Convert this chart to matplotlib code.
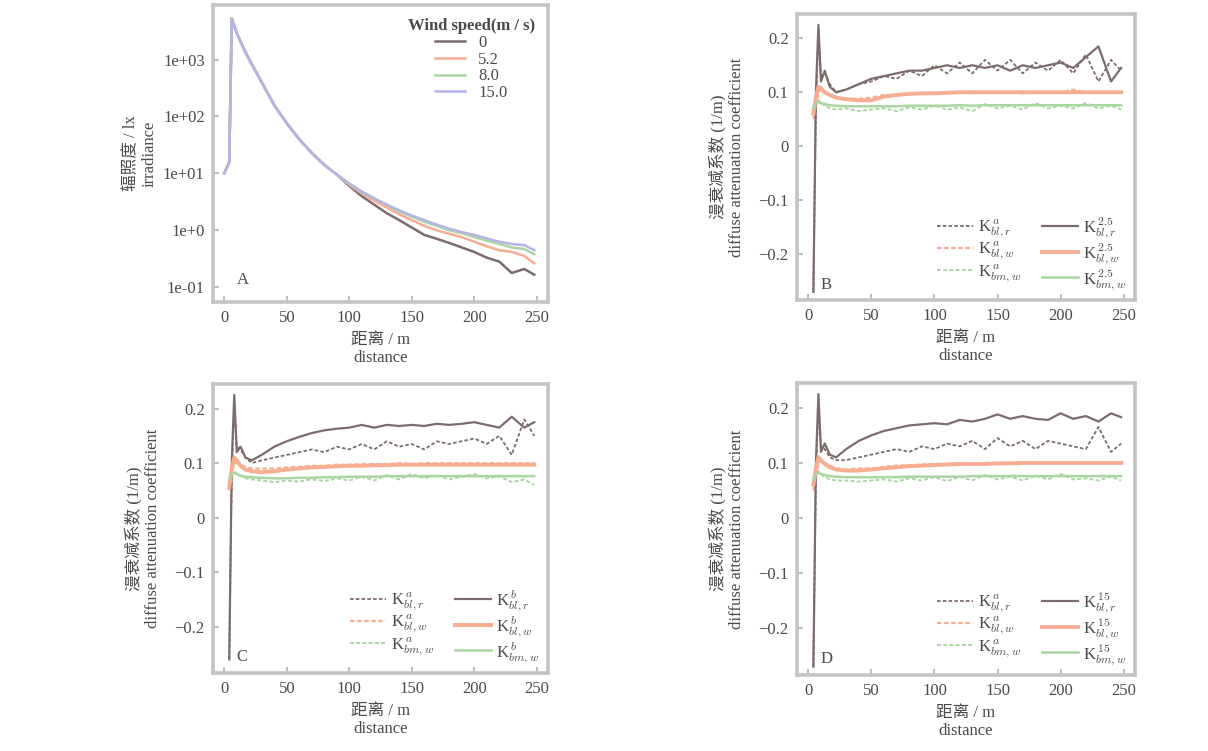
import matplotlib
matplotlib.use("Agg")
import matplotlib.pyplot as plt
from matplotlib.ticker import FixedLocator, FixedFormatter

plt.rcParams["font.family"] = ["Liberation Serif", "Noto Sans CJK SC"]
plt.rcParams["mathtext.fontset"] = "cm"

# ---------------- Panel A: irradiance vs distance ----------------
dist_a = [0, 4, 6, 10, 15, 20, 30, 40, 50, 60, 70, 80, 90, 100, 110, 120,
          130, 140, 150, 160, 170, 180, 190, 200, 210, 220, 230, 240, 248]
wind_labels = ["0", "5.2", "8.0", "15.0"]
irr_w0 = [10, 15.8, 5248, 2951, 1660, 1000, 398, 158, 75.9, 39.8, 22.9, 14.1,
          9.55, 6.03, 3.98, 2.82, 2.0, 1.51, 1.12, 0.83, 0.71, 0.60, 0.50,
          0.417, 0.331, 0.282, 0.178, 0.209, 0.166]
irr_w5 = [10, 15.8, 5248, 2951, 1660, 1000, 398, 158, 75.9, 39.8, 22.9, 14.1,
          9.55, 6.31, 4.47, 3.31, 2.51, 1.91, 1.51, 1.20, 1.0, 0.87, 0.76,
          0.63, 0.525, 0.447, 0.417, 0.355, 0.263]
irr_w8 = [10, 15.8, 5248, 2951, 1660, 1000, 398, 158, 75.9, 39.8, 22.9, 14.1,
          9.55, 6.61, 4.79, 3.63, 2.82, 2.14, 1.74, 1.41, 1.20, 1.0, 0.89,
          0.76, 0.66, 0.575, 0.50, 0.47, 0.38]
irr_w15 = [10, 15.8, 5248, 2951, 1660, 1000, 398, 158, 75.9, 39.8, 22.9, 14.1,
           9.55, 6.61, 4.79, 3.63, 2.82, 2.24, 1.82, 1.51, 1.26, 1.07, 0.93,
           0.83, 0.72, 0.63, 0.575, 0.55, 0.447]
irr_ticks = [0.1, 1, 10, 100, 1000]
irr_ticklabels = ["1e-01", "1e+0", "1e+01", "1e+02", "1e+03"]

# ---------------- Panels B-D: diffuse attenuation coefficients ----------------
dist_k = [4, 6, 8, 10, 13, 17, 22, 30, 40, 50, 60, 70, 80, 90, 100, 110, 120,
          130, 140, 150, 160, 170, 180, 190, 200, 210, 220, 230, 240, 248]

b_kr_a = [-0.27, 0.08, 0.21, 0.13, 0.135, 0.115, 0.10, 0.105, 0.115, 0.12, 0.13,
          0.125, 0.14, 0.13, 0.15, 0.135, 0.155, 0.135, 0.16, 0.14, 0.16, 0.135,
          0.155, 0.14, 0.16, 0.135, 0.17, 0.12, 0.16, 0.14]
b_kr_b = [-0.27, 0.10, 0.225, 0.12, 0.14, 0.11, 0.10, 0.105, 0.115, 0.125, 0.13,
          0.135, 0.14, 0.14, 0.145, 0.15, 0.145, 0.15, 0.145, 0.15, 0.14, 0.15,
          0.145, 0.15, 0.155, 0.145, 0.165, 0.185, 0.12, 0.145]
b_kw_a = [0.05, 0.07, 0.10, 0.105, 0.10, 0.095, 0.09, 0.088, 0.088, 0.09, 0.095,
          0.095, 0.097, 0.098, 0.098, 0.10, 0.10, 0.098, 0.10, 0.10, 0.10, 0.098,
          0.10, 0.10, 0.10, 0.105, 0.10, 0.10, 0.10, 0.10]
b_kw_b = [0.06, 0.09, 0.11, 0.108, 0.10, 0.095, 0.09, 0.087, 0.085, 0.085, 0.092,
          0.095, 0.097, 0.098, 0.098, 0.099, 0.10, 0.10, 0.10, 0.10, 0.10, 0.10,
          0.10, 0.10, 0.10, 0.10, 0.10, 0.10, 0.10, 0.10]
b_kcw_a = [0.06, 0.075, 0.085, 0.08, 0.075, 0.07, 0.068, 0.07, 0.065, 0.068, 0.07,
           0.065, 0.072, 0.068, 0.075, 0.068, 0.072, 0.065, 0.078, 0.07, 0.075,
           0.068, 0.08, 0.07, 0.075, 0.07, 0.08, 0.07, 0.075, 0.068]
b_kcw_b = [0.07, 0.08, 0.082, 0.08, 0.078, 0.076, 0.075, 0.074, 0.074, 0.074,
           0.074, 0.074, 0.075, 0.075, 0.075, 0.075, 0.076, 0.075, 0.076, 0.076,
           0.076, 0.076, 0.076, 0.076, 0.076, 0.076, 0.076, 0.076, 0.076, 0.076]

c_kr_a = [-0.26, 0.08, 0.21, 0.13, 0.125, 0.11, 0.10, 0.105, 0.11, 0.115, 0.12,
          0.125, 0.12, 0.13, 0.125, 0.135, 0.125, 0.14, 0.13, 0.135, 0.125, 0.14,
          0.135, 0.14, 0.145, 0.135, 0.15, 0.115, 0.18, 0.15]
c_kr_b = [-0.26, 0.10, 0.225, 0.12, 0.13, 0.11, 0.105, 0.115, 0.13, 0.14, 0.148,
          0.155, 0.16, 0.163, 0.165, 0.17, 0.165, 0.17, 0.168, 0.17, 0.168, 0.172,
          0.17, 0.172, 0.175, 0.17, 0.165, 0.185, 0.165, 0.175]
c_kw_a = [0.05, 0.08, 0.10, 0.10, 0.097, 0.093, 0.09, 0.09, 0.09, 0.092, 0.093,
          0.095, 0.095, 0.097, 0.097, 0.098, 0.098, 0.098, 0.10, 0.098, 0.10,
          0.10, 0.10, 0.10, 0.10, 0.10, 0.10, 0.10, 0.10, 0.10]
c_kw_b = [0.055, 0.09, 0.11, 0.105, 0.095, 0.088, 0.085, 0.083, 0.085, 0.088,
          0.09, 0.092, 0.093, 0.094, 0.095, 0.095, 0.096, 0.096, 0.097, 0.097,
          0.097, 0.097, 0.097, 0.097, 0.097, 0.097, 0.097, 0.097, 0.097, 0.097]
c_kcw_a = [0.065, 0.078, 0.085, 0.08, 0.077, 0.072, 0.07, 0.068, 0.065, 0.068,
           0.066, 0.07, 0.067, 0.072, 0.068, 0.075, 0.068, 0.078, 0.07, 0.08,
           0.072, 0.078, 0.07, 0.075, 0.08, 0.072, 0.076, 0.065, 0.07, 0.06]
c_kcw_b = [0.07, 0.08, 0.082, 0.08, 0.077, 0.075, 0.074, 0.073, 0.072, 0.072,
           0.073, 0.073, 0.074, 0.074, 0.075, 0.075, 0.075, 0.076, 0.076, 0.076,
           0.076, 0.076, 0.076, 0.076, 0.076, 0.076, 0.076, 0.076, 0.076, 0.076]

d_kr_a = [-0.27, 0.08, 0.21, 0.13, 0.125, 0.11, 0.105, 0.105, 0.11, 0.115, 0.12,
          0.125, 0.12, 0.13, 0.125, 0.135, 0.13, 0.14, 0.125, 0.145, 0.13, 0.14,
          0.125, 0.14, 0.135, 0.13, 0.125, 0.165, 0.12, 0.135]
d_kr_b = [-0.27, 0.10, 0.225, 0.12, 0.135, 0.115, 0.11, 0.125, 0.14, 0.15, 0.158,
          0.163, 0.168, 0.17, 0.172, 0.17, 0.178, 0.175, 0.18, 0.188, 0.18, 0.185,
          0.18, 0.178, 0.19, 0.18, 0.185, 0.175, 0.19, 0.183]
d_kw_a = [0.05, 0.075, 0.10, 0.105, 0.10, 0.095, 0.09, 0.088, 0.09, 0.09, 0.093,
          0.095, 0.096, 0.097, 0.098, 0.098, 0.10, 0.098, 0.10, 0.10, 0.10, 0.10,
          0.10, 0.10, 0.10, 0.10, 0.10, 0.10, 0.10, 0.10]
d_kw_b = [0.06, 0.09, 0.11, 0.105, 0.098, 0.092, 0.088, 0.086, 0.086, 0.088,
          0.09, 0.092, 0.094, 0.095, 0.096, 0.097, 0.098, 0.098, 0.098, 0.099,
          0.099, 0.10, 0.10, 0.10, 0.10, 0.10, 0.10, 0.10, 0.10, 0.10]
d_kcw_a = [0.06, 0.075, 0.085, 0.08, 0.075, 0.07, 0.068, 0.068, 0.066, 0.068,
           0.07, 0.066, 0.072, 0.068, 0.074, 0.067, 0.075, 0.068, 0.078, 0.07,
           0.075, 0.068, 0.077, 0.07, 0.08, 0.07, 0.072, 0.068, 0.075, 0.068]
d_kcw_b = [0.07, 0.08, 0.082, 0.08, 0.078, 0.076, 0.075, 0.074, 0.074, 0.074,
           0.074, 0.074, 0.075, 0.075, 0.075, 0.075, 0.075, 0.076, 0.076, 0.076,
           0.076, 0.076, 0.076, 0.076, 0.076, 0.076, 0.076, 0.076, 0.076, 0.076]

k_ticks = [-0.2, -0.1, 0, 0.1, 0.2]
k_ticklabels = ["\u22120.2", "\u22120.1", "0", "0.1", "0.2"]
x_ticks = [0, 50, 100, 150, 200, 250]

legend_left = [r"K$_{bl,r}^{\,a}$", r"K$_{bl,w}^{\,a}$", r"K$_{bm,w}^{\,a}$"]
legend_right_b = [r"K$_{bl,r}^{\,2.5}$", r"K$_{bl,w}^{\,2.5}$", r"K$_{bm,w}^{\,2.5}$"]
legend_right_c = [r"K$_{bl,r}^{\,b}$", r"K$_{bl,w}^{\,b}$", r"K$_{bm,w}^{\,b}$"]
legend_right_d = [r"K$_{bl,r}^{\,15}$", r"K$_{bl,w}^{\,15}$", r"K$_{bm,w}^{\,15}$"]

# ---------------- styling ----------------
C_DARK = "#7c6c6c"
C_ORANGE = "#f6ad92"
C_GREEN = "#a9d6a2"
C_BLUE = "#b4b4e6"
SPINE = "#c4c4c4"
TXT = "#4a4a4a"
FS = 12

fig = plt.figure(figsize=(12.08, 7.51), dpi=100)


def style_axes(ax):
    for s in ax.spines.values():
        s.set_color(SPINE)
        s.set_linewidth(2.6)
    ax.tick_params(axis="both", direction="in", length=4, width=1.2,
                   color="#b0b0b0", labelsize=FS, labelcolor=TXT, pad=6)
    ax.tick_params(axis="both", which="minor", length=0)
    ax.set_xlim(-9, 259)
    ax.xaxis.set_major_locator(FixedLocator(x_ticks))
    ax.set_xlabel("距离 / m\ndistance", fontsize=FS, color=TXT, linespacing=1.2)


# Panel A
axA = fig.add_axes([213 / 1208, 1 - 302 / 751, 335 / 1208, 297 / 751])
axA.set_yscale("log")
for vals, lab, col in zip([irr_w0, irr_w5, irr_w8, irr_w15], wind_labels,
                          [C_DARK, C_ORANGE, C_GREEN, C_BLUE]):
    axA.plot(dist_a, vals, color=col, lw=1.8, label=lab)
axA.set_ylim(0.055, 9100)
axA.yaxis.set_major_locator(FixedLocator(irr_ticks))
axA.yaxis.set_major_formatter(FixedFormatter(irr_ticklabels))
axA.yaxis.set_minor_locator(FixedLocator([]))
style_axes(axA)
axA.set_ylabel("辐照度 / lx\nirradiance", fontsize=FS, color=TXT, linespacing=1.2)
leg = axA.legend(title="Wind speed(m / s)", loc="upper right", frameon=False,
                 fontsize=FS, handlelength=1.8, labelspacing=0.05,
                 bbox_to_anchor=(0.99, 0.99), borderaxespad=0.2)
leg.get_title().set_fontweight("bold")
leg.get_title().set_color(TXT)
leg.get_title().set_fontsize(FS)
leg._legend_box.align = "center"
for t in leg.get_texts():
    t.set_color(TXT)
axA.text(0.07, 0.06, "A", transform=axA.transAxes, fontsize=FS, color=TXT)


def k_panel(rect, series, right_labels, letter):
    ax = fig.add_axes(rect)
    kr_a, kr_b, kw_a, kw_b, kcw_a, kcw_b = series
    h1, = ax.plot(dist_k, kr_a, color=C_DARK, lw=1.3, ls=(0, (2, 1.2)))
    h2, = ax.plot(dist_k, kw_a, color=C_ORANGE, lw=1.6, ls=(0, (2, 1.2)))
    h3, = ax.plot(dist_k, kcw_a, color=C_GREEN, lw=1.4, ls=(0, (2, 1.2)))
    h4, = ax.plot(dist_k, kr_b, color=C_DARK, lw=1.6)
    h5, = ax.plot(dist_k, kw_b, color=C_ORANGE, lw=2.8)
    h6, = ax.plot(dist_k, kcw_b, color=C_GREEN, lw=1.8)
    ax.set_ylim(-0.285, 0.245)
    ax.yaxis.set_major_locator(FixedLocator(k_ticks))
    ax.yaxis.set_major_formatter(FixedFormatter(k_ticklabels))
    style_axes(ax)
    ax.set_ylabel("漫衰减系数 (1/m)\ndiffuse attenuation coefficient",
                  fontsize=FS, color=TXT, linespacing=1.2, labelpad=10)
    lg = ax.legend([h1, h2, h3, h4, h5, h6], legend_left + right_labels,
                   ncol=2, loc="lower right", frameon=False, fontsize=FS,
                   handlelength=2.2, labelspacing=0.0, columnspacing=1.2,
                   handletextpad=0.3, borderaxespad=0.1)
    for t in lg.get_texts():
        t.set_color(TXT)
    ax.text(0.07, 0.04, letter, transform=ax.transAxes, fontsize=FS, color=TXT)
    return ax


k_panel([797 / 1208, 1 - 300 / 751, 338 / 1208, 286 / 751],
        [b_kr_a, b_kr_b, b_kw_a, b_kw_b, b_kcw_a, b_kcw_b], legend_right_b, "B")
k_panel([213 / 1208, 1 - 673 / 751, 335 / 1208, 289 / 751],
        [c_kr_a, c_kr_b, c_kw_a, c_kw_b, c_kcw_a, c_kcw_b], legend_right_c, "C")
k_panel([797 / 1208, 1 - 675 / 751, 338 / 1208, 292 / 751],
        [d_kr_a, d_kr_b, d_kw_a, d_kw_b, d_kcw_a, d_kcw_b], legend_right_d, "D")

fig.savefig("out.png", dpi=100, facecolor="white")
